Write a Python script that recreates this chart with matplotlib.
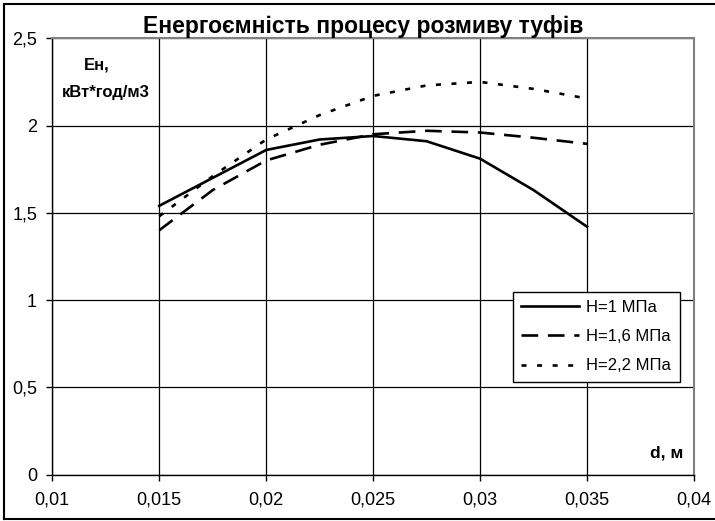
import matplotlib
matplotlib.use("Agg")
import matplotlib.pyplot as plt
from matplotlib.lines import Line2D
from matplotlib.ticker import FuncFormatter, MultipleLocator

plt.rcParams['font.family'] = ['Liberation Sans', 'DejaVu Sans']
plt.rcParams['lines.scale_dashes'] = False

# Bit diameter d, m
d_values = [0.015, 0.0175, 0.02, 0.0225, 0.025, 0.0275, 0.03, 0.0325, 0.035]

# Specific energy consumption, kWh/m3, for three jet pressures
en_h1_0 = [1.54, 1.70, 1.86, 1.92, 1.94, 1.91, 1.81, 1.63, 1.42]
en_h1_6 = [1.40, 1.63, 1.80, 1.89, 1.95, 1.97, 1.96, 1.93, 1.895]
en_h2_2 = [1.48, 1.71, 1.92, 2.06, 2.17, 2.23, 2.25, 2.21, 2.155]

series_labels = ['Н=1 МПа', 'Н=1,6 МПа', 'Н=2,2 МПа']

title_text = 'Енергоємність процесу розмиву туфів'
y_title_lines = ['Ен,', 'кВт*год/м3']
x_title = 'd, м'

W, H = 715, 521
fig = plt.figure(figsize=(W / 100, H / 100), dpi=100)

# plot area in pixel coordinates
left_px, right_px, top_px, bottom_px = 52.3, 694.0, 38.3, 474.5
ax = fig.add_axes([left_px / W, 1 - bottom_px / H,
                   (right_px - left_px) / W, (bottom_px - top_px) / H])

lw = 1.9
ax.plot(d_values, en_h1_0, color='black', lw=lw, ls='-', label=series_labels[0])
ax.plot(d_values, en_h1_6, color='black', lw=lw, dashes=(12, 7), label=series_labels[1])
ax.plot(d_values, en_h2_2, color='black', lw=lw, dashes=(3.6, 7.6), label=series_labels[2])

ax.set_xlim(0.01, 0.04)
ax.set_ylim(0, 2.5)
ax.xaxis.set_major_locator(MultipleLocator(0.005))
ax.yaxis.set_major_locator(MultipleLocator(0.5))


def comma_fmt(v, pos):
    s = f'{v:.3f}'.rstrip('0').rstrip('.')
    return s.replace('.', ',')


ax.xaxis.set_major_formatter(FuncFormatter(comma_fmt))
ax.yaxis.set_major_formatter(FuncFormatter(comma_fmt))

ax.grid(True, color='black', lw=0.9)
ax.set_axisbelow(True)
ax.tick_params(axis='both', direction='out', length=4, width=1, color='black',
               labelsize=13)
ax.tick_params(axis='x', pad=8)
ax.tick_params(axis='y', pad=7)

for side in ('left', 'bottom'):
    ax.spines[side].set_color('black')
    ax.spines[side].set_linewidth(1.0)
for side in ('top', 'right'):
    ax.spines[side].set_color('#808080')
    ax.spines[side].set_linewidth(1.5)

# titles
fig.text(363 / W, 1 - 33 / H, title_text, ha='center', va='baseline',
         fontsize=16.5, fontweight='bold')
fig.text(97 / W, 1 - 70 / H, y_title_lines[0], ha='center', va='baseline',
         fontsize=12, fontweight='bold')
fig.text(106 / W, 1 - 97 / H, y_title_lines[1], ha='center', va='baseline',
         fontsize=12, fontweight='bold')
fig.text(683 / W, 1 - 458 / H, x_title, ha='right', va='baseline',
         fontsize=12.5, fontweight='bold')

leg = ax.legend(loc='upper left', bbox_to_anchor=(512.7 / W, 1 - 291.7 / H),
                bbox_transform=fig.transFigure, borderaxespad=0,
                fontsize=12, frameon=True, fancybox=False, shadow=False,
                handlelength=3.5, handletextpad=0.42, labelspacing=0.85,
                borderpad=0.5)
leg.get_frame().set_edgecolor('black')
leg.get_frame().set_linewidth(1.0)
leg.get_frame().set_alpha(1)

# chart-area border
for xs, ys in (([4, 4], [4, 519]), ([4, 716], [4, 4]), ([4, 716], [519, 519])):
    fig.add_artist(Line2D([x / W for x in xs], [1 - y / H for y in ys],
                          color='black', lw=1.5))

fig.savefig('out.png', dpi=100)
